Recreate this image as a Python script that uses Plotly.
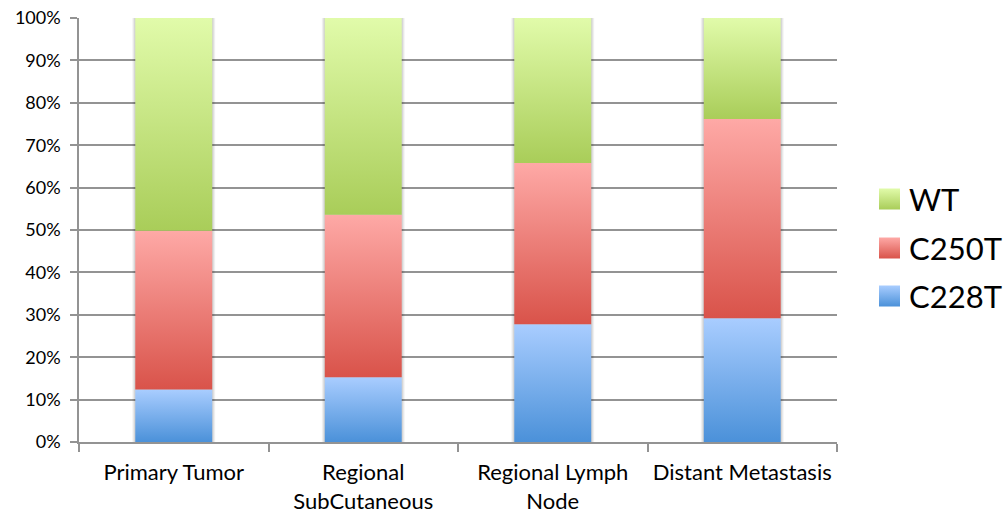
import plotly.graph_objects as go

# ---- data (percent of cases per site) ----
categories = ["Primary Tumor", "Regional<br>SubCutaneous", "Regional Lymph<br>Node", "Distant Metastasis"]
series_names = ["C228T", "C250T", "WT"]
c228t = [12.4, 15.3, 27.8, 29.2]
c250t = [37.4, 38.3, 38.0, 47.0]
wt = [50.2, 46.4, 34.2, 23.8]
y_ticks = [0, 10, 20, 30, 40, 50, 60, 70, 80, 90, 100]
y_tick_labels = [f"{v}%" for v in y_ticks]

# gradient colours: (bottom, top)
gradients = {
    "C228T": ("#4b91d9", "#a9cdff"),
    "C250T": ("#d9534a", "#fea9a6"),
    "WT": ("#a9cd59", "#e1fbaa"),
}

values = {"C228T": c228t, "C250T": c250t, "WT": wt}

FONT = "Lato"
BAR_HALF = 0.203          # half bar width, in category units
PX = 1.0 / 189.5          # one screen pixel in category units

fig = go.Figure()

# soft shadow behind each stacked column
for i, _ in enumerate(categories):
    top = sum(values[s][i] for s in series_names)
    for grow, alpha in ((3, 0.05), (2, 0.06), (1, 0.08)):
        hw = BAR_HALF + grow * PX
        fig.add_trace(go.Scatter(
            x=[i - hw, i + hw, i + hw, i - hw, i - hw],
            y=[0, 0, top, top, 0],
            fill="toself", mode="lines", line=dict(width=0),
            fillcolor=f"rgba(0,0,0,{alpha})",
            hoverinfo="skip", showlegend=False,
        ))

# stacked columns with vertical gradient fills
for i, cat in enumerate(categories):
    base = 0.0
    for s in series_names:
        v = values[s][i]
        b, t = base, base + v
        dark, light = gradients[s]
        fig.add_trace(go.Scatter(
            x=[i - BAR_HALF, i + BAR_HALF, i + BAR_HALF, i - BAR_HALF, i - BAR_HALF],
            y=[b, b, t, t, b],
            fill="toself", mode="lines", line=dict(width=0),
            fillgradient=dict(type="vertical", colorscale=[[0, dark], [1, light]],
                              start=b, stop=t),
            name=s, hoveron="fills",
            text=f"{cat.replace('<br>', ' ')}: {v:.1f}%", hoverinfo="text+name",
            showlegend=False,
        ))
        base = t

# legend swatches drawn on a full-canvas overlay axis (pixel units, y upward)
legend_order = ["WT", "C250T", "C228T"]
legend_y = [199, 248, 296]
for s, yc in zip(legend_order, legend_y):
    dark, light = gradients[s]
    yb = 515 - yc
    x0, x1, y0, y1 = 879, 900, yb - 10.5, yb + 10.5
    fig.add_trace(go.Scatter(
        x=[x0, x1, x1, x0, x0], y=[y0, y0, y1, y1, y0],
        xaxis="x3", yaxis="y3",
        fill="toself", mode="lines", line=dict(width=0),
        fillgradient=dict(type="vertical", colorscale=[[0, dark], [1, light]],
                          start=y0, stop=y1),
        hoverinfo="skip", showlegend=False,
    ))
    fig.add_annotation(
        x=907 / 1004, y=1 - yc / 515, xref="paper", yref="paper",
        text=s, showarrow=False, xanchor="left", yanchor="middle",
        font=dict(family=FONT, size=31, color="#000000"),
    )

grid_color = "#939393"

fig.update_layout(
    width=1004, height=515,
    margin=dict(l=0, r=0, t=0, b=0, autoexpand=False),
    paper_bgcolor="white", plot_bgcolor="rgba(0,0,0,0)",
    showlegend=False,
    font=dict(family=FONT, color="#000000"),
    xaxis=dict(
        domain=[79 / 1004, 837 / 1004],
        range=[-0.5, 3.5],
        tickvals=list(range(len(categories))),
        ticktext=categories,
        ticks="outside", ticklen=10, tickcolor="rgba(0,0,0,0)",
        tickfont=dict(family=FONT, size=22, color="#000000"),
        showgrid=False, zeroline=False, automargin=False,
        showline=True, linecolor=grid_color, linewidth=1.5,
        minor=dict(tickvals=[-0.5, 0.5, 1.5, 2.5, 3.5], ticks="outside",
                   ticklen=8, tickcolor=grid_color, tickwidth=1.5, showgrid=False),
        fixedrange=True,
    ),
    yaxis=dict(
        domain=[73 / 515, 497 / 515],
        range=[0, 100],
        tickvals=y_ticks,
        ticktext=y_tick_labels,
        ticks="outside", ticklen=7, tickcolor=grid_color, tickwidth=1.5,
        ticklabelstandoff=6,
        tickfont=dict(family=FONT, size=18, color="#000000"),
        showgrid=True, gridcolor=grid_color, gridwidth=1.5,
        zeroline=False, automargin=False,
        showline=True, linecolor=grid_color, linewidth=1.5,
        fixedrange=True,
    ),
    xaxis3=dict(domain=[0, 1], range=[0, 1004], visible=False, anchor="y3",
                automargin=False, fixedrange=True),
    yaxis3=dict(domain=[0, 1], range=[0, 515], visible=False, anchor="x3",
                automargin=False, fixedrange=True),
)

fig.write_html("out.html")
